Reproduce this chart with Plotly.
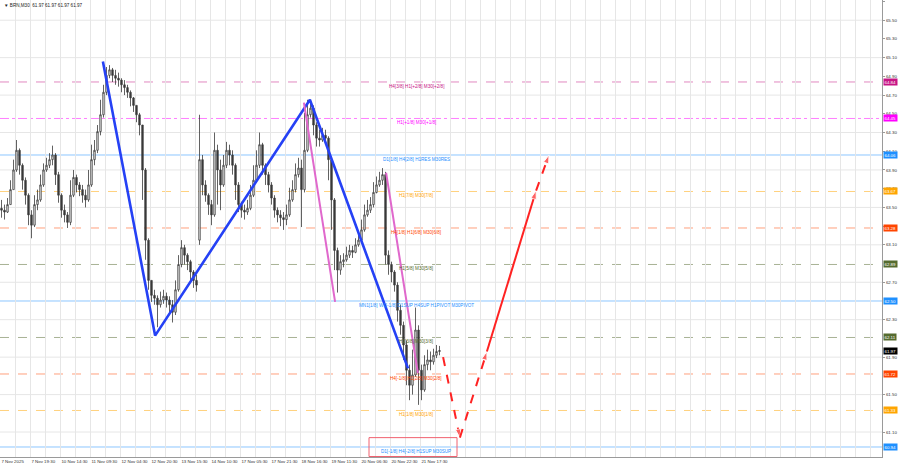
import plotly.graph_objects as go

# ---------------- data ----------------
bar_idx = list(range(147))
opens = [63.49,63.47,63.45,63.53,63.69,63.90,64.11,63.95,63.79,63.63,63.42,63.31,63.53,63.58,63.74,63.90,63.95,64.01,64.06,63.85,
         63.63,63.47,63.42,63.34,63.63,63.82,63.74,63.69,63.63,63.58,63.74,64.01,64.11,64.31,64.49,64.73,64.91,64.97,64.91,64.88,
         64.86,64.81,64.78,64.73,64.67,64.59,64.49,64.38,63.90,63.15,62.72,62.56,62.53,62.46,62.51,62.55,62.51,62.46,62.38,62.62,
         62.89,63.07,62.99,62.92,62.81,62.72,63.15,64.01,63.74,63.63,63.53,63.42,64.11,63.90,63.74,63.95,64.11,64.06,63.95,63.74,
         63.53,63.47,63.45,63.49,63.63,63.79,63.95,64.17,63.95,63.85,63.74,63.60,63.47,63.42,63.39,63.37,63.42,63.58,63.69,63.85,
         63.92,63.69,64.11,64.49,64.56,64.38,64.24,64.22,64.27,64.24,64.01,63.58,63.04,62.83,62.92,62.94,62.99,63.04,63.02,63.10,
         63.15,63.26,63.42,63.47,63.53,63.66,63.74,63.79,63.85,62.99,62.89,62.81,62.67,62.40,62.24,62.03,61.76,61.60,61.71,62.19,
         61.76,61.55,61.82,61.87,61.85,61.92,61.96]
highs = [63.58,63.53,63.60,63.79,64.01,64.22,64.13,63.97,63.82,63.65,63.47,63.63,63.69,63.85,63.97,64.03,64.08,64.16,64.08,63.88,
         63.65,63.53,63.45,63.79,63.90,63.85,63.77,63.74,63.69,63.90,64.17,64.22,64.38,64.65,64.81,65.00,65.02,64.99,64.97,64.94,
         64.88,64.86,64.81,64.75,64.68,64.59,64.51,64.38,63.92,63.17,62.72,62.62,62.56,62.60,62.62,62.59,62.55,62.51,62.72,62.99,
         63.15,63.10,63.01,62.94,62.83,62.78,64.49,64.06,63.79,63.65,63.58,64.30,64.17,64.01,64.06,64.20,64.17,64.11,63.97,63.77,
         63.56,63.53,63.58,63.74,63.95,64.11,64.30,64.19,63.97,63.88,63.77,63.63,63.50,63.47,63.45,63.53,63.71,63.79,63.97,64.03,
         64.01,64.51,64.65,64.65,64.59,64.41,64.33,64.35,64.33,64.26,64.03,63.60,63.07,62.99,63.01,63.08,63.10,63.09,63.17,63.24,
         63.37,63.53,63.58,63.61,63.77,63.83,63.88,63.92,63.88,63.04,62.92,62.83,62.70,62.46,62.28,62.08,61.82,61.98,62.43,62.24,
         61.82,61.92,61.98,61.96,61.99,62.03,62.02]
lows = [63.39,63.37,63.44,63.53,63.69,63.88,63.85,63.69,63.53,63.31,63.17,63.29,63.47,63.56,63.72,63.88,63.92,63.95,63.74,63.55,
        63.39,63.34,63.28,63.31,63.61,63.66,63.62,63.55,63.50,63.56,63.72,63.95,64.08,64.27,64.46,64.70,64.88,64.84,64.81,64.79,
        64.73,64.70,64.67,64.58,64.52,64.41,64.27,63.58,62.94,62.62,62.49,62.46,62.22,62.43,62.47,62.43,62.38,62.27,62.35,62.60,
        62.86,62.89,62.83,62.72,62.64,62.60,63.10,63.63,63.56,63.42,63.31,63.40,63.53,63.47,63.72,63.92,63.95,63.85,63.58,63.45,
        63.39,63.37,63.42,63.47,63.61,63.77,63.92,63.85,63.74,63.66,63.53,63.39,63.34,63.30,63.26,63.31,63.40,63.56,63.66,63.82,
        63.29,63.66,64.09,64.46,64.27,64.15,64.15,64.20,64.17,63.79,63.26,62.83,62.59,62.78,62.86,62.92,62.96,62.96,63.01,63.08,
        63.13,63.24,63.40,63.44,63.50,63.65,63.72,63.74,62.89,62.78,62.70,62.60,62.28,62.14,61.87,61.60,61.44,61.50,61.69,61.39,
        61.44,61.53,61.76,61.76,61.82,61.89,61.92]
closes = [63.47,63.45,63.53,63.69,63.90,64.11,63.95,63.79,63.63,63.42,63.31,63.53,63.58,63.74,63.90,63.95,64.01,64.06,63.85,63.63,
          63.47,63.42,63.34,63.63,63.82,63.74,63.69,63.63,63.58,63.74,64.01,64.11,64.31,64.49,64.73,64.91,64.97,64.91,64.88,64.86,
          64.81,64.78,64.73,64.67,64.59,64.49,64.38,63.90,63.15,62.72,62.56,62.53,62.46,62.51,62.55,62.51,62.46,62.38,62.62,62.89,
          63.07,62.99,62.92,62.81,62.72,62.67,64.01,63.74,63.63,63.53,63.42,64.11,63.90,63.74,63.95,64.11,64.06,63.95,63.74,63.53,
          63.47,63.45,63.49,63.63,63.79,63.95,64.17,63.95,63.85,63.74,63.60,63.47,63.42,63.39,63.37,63.42,63.58,63.69,63.85,63.92,
          63.69,64.11,64.49,64.56,64.38,64.24,64.22,64.27,64.24,64.01,63.58,63.04,62.83,62.92,62.94,62.99,63.04,63.02,63.10,63.15,
          63.26,63.42,63.47,63.53,63.66,63.74,63.79,63.85,62.99,62.89,62.81,62.67,62.40,62.24,62.03,61.76,61.60,61.71,62.19,61.76,
          61.55,61.82,61.87,61.85,61.92,61.96,61.97]

date_labels = ["7 Nov 2025", "7 Nov 19:30", "10 Nov 14:30", "11 Nov 09:30", "12 Nov 04:30",
               "12 Nov 20:30", "13 Nov 15:30", "14 Nov 10:30", "17 Nov 05:30", "17 Nov 21:30",
               "18 Nov 16:30", "19 Nov 11:30", "20 Nov 06:30", "20 Nov 22:30", "21 Nov 17:30"]
# price-scale labels that stay visible (the others sit under the level price tags)
price_ticks = [61.10, 61.50, 61.90, 62.30, 62.70, 63.10, 63.30,
               63.50, 63.70, 63.90, 64.10, 64.30, 64.50, 64.70, 64.90, 65.10, 65.30, 65.50, 65.70]
grid_prices = [61.10, 61.50, 61.90, 62.30, 62.70, 63.10, 63.50, 63.90, 64.30, 64.70, 65.10, 65.50]

level_prices = [64.84, 64.45, 64.06, 63.67, 63.28, 62.89, 62.50, 62.11, 61.72, 61.33, 60.94]
level_texts = ["H4[3/8] H1[+2/8] M30[+2/8]", "H1[+1/8] M30[+1/8]", "D1[1/8] H4[2/8] H1RES M30RES",
               "H1[7/8] M30[7/8]", "H4[1/8] H1[6/8] M30[6/8]", "H1[5/8] M30[5/8]",
               "MN1[1/8] W1[-1/8] D1SUP H4SUP H1PIVOT M30PIVOT", "H1[3/8] M30[3/8]",
               "H4[-1/8] H1[2/8] M30[2/8]", "H1[1/8] M30[1/8]", "D1[-1/8] H4[-2/8] H1SUP M30SUP"]
level_colors = ["#c71585", "#ff00ff", "#1e90ff", "#ffa500", "#ff4500", "#556b2f",
                "#1e90ff", "#556b2f", "#ff4500", "#ffa500", "#1e90ff"]
level_dash = ["dash", "dashdot", "solid", "dash", "dash", "dash", "solid", "dash", "dash", "dash", "solid"]

last_price = 61.97

zz_x = [33.8, 51.2, 102.8, 135.5]
zz_y = [65.06, 62.13, 64.65, 61.78]
pink1_x = [100.8, 111.2]
pink1_y = [64.62, 62.49]
pink2_x = [128.2, 138.8]
pink2_y = [63.87, 61.73]
fc_x = [147.2, 152.8, 161.8, 178.2, 182.5]
fc_y = [61.90, 61.04, 61.96, 63.68, 64.06]
fc_dash = ["dash", "dash", "solid", "dash"]

# ---------------- figure ----------------
FONT = "Liberation Sans, Arial, sans-serif"
X0, X1 = -0.5, 293.5
Y0, Y1 = 60.833, 65.716

fig = go.Figure()

shapes = []
for gp in grid_prices:
    shapes.append(dict(type="line", xref="paper", x0=0, x1=1, yref="y", y0=gp, y1=gp,
                       line=dict(color="#e6e6e6", width=1), layer="below"))
for p, c, d in zip(level_prices, level_colors, level_dash):
    shapes.append(dict(type="line", xref="paper", x0=0, x1=1, yref="y", y0=p, y1=p,
                       line=dict(color=c, width=1, dash=d), opacity=0.5, layer="below"))

fig.add_trace(go.Candlestick(
    x=bar_idx, open=opens, high=highs, low=lows, close=closes,
    increasing=dict(line=dict(color="#3a3a3a", width=0.8), fillcolor="#ffffff"),
    decreasing=dict(line=dict(color="#3a3a3a", width=0.8), fillcolor="#3a3a3a"),
    whiskerwidth=0, showlegend=False, hoverinfo="skip"))

fig.add_trace(go.Scatter(x=zz_x, y=zz_y, mode="lines",
                         line=dict(color="#2541f5", width=2.6), showlegend=False))
for px_, py_ in ((pink1_x, pink1_y), (pink2_x, pink2_y)):
    fig.add_trace(go.Scatter(x=px_, y=py_, mode="lines",
                             line=dict(color="#e068cc", width=2), showlegend=False))

for k in range(len(fc_x) - 1):
    fig.add_trace(go.Scatter(
        x=[fc_x[k], fc_x[k + 1]], y=[fc_y[k], fc_y[k + 1]], mode="lines+markers",
        line=dict(color="#ff2222", width=2, dash=fc_dash[k]),
        marker=dict(symbol="arrow", size=[0, 9], angleref="previous", color="#ff2222"),
        showlegend=False))

annotations = []
for p, t, c in zip(level_prices, level_texts, level_colors):
    annotations.append(dict(xref="paper", x=416 / 882, yref="y", y=p, yanchor="top",
                            xanchor="center", text=t, showarrow=False,
                            font=dict(family=FONT, size=4.6, color=c)))
    annotations.append(dict(xref="paper", x=1, yref="y", y=p, xanchor="left", yanchor="middle",
                            text=f"{p:.2f}", showarrow=False, xshift=1, bgcolor=c, borderpad=0.5,
                            font=dict(family=FONT, size=4.4, color="#ffffff")))
annotations.append(dict(xref="paper", x=1, yref="y", y=last_price, xanchor="left", yanchor="middle",
                        text=f"{last_price:.2f}", showarrow=False, xshift=1, bgcolor="#000000",
                        borderpad=0.5, font=dict(family=FONT, size=4.4, color="#ffffff")))
annotations.append(dict(xref="paper", x=0, yref="paper", y=1, xanchor="left", yanchor="top",
                        xshift=2, yshift=-1, showarrow=False,
                        text=f"▼ BRN,M30  {last_price:.2f} {last_price:.2f} {last_price:.2f} {last_price:.2f}",
                        font=dict(family=FONT, size=4.6, color="#222222")))

shapes.append(dict(type="rect", xref="paper", x0=369 / 882, x1=457 / 882, yref="y",
                   y0=Y0 + 0.005, y1=61.04, line=dict(color="#f0606e", width=1)))

xt_vals = [5 * k - 0.2 for k in range(59)]
xt_text = [date_labels[k // 2] if (k % 2 == 0 and k // 2 < len(date_labels)) else "" for k in range(59)]

fig.update_layout(
    width=900, height=468,
    margin=dict(l=0, r=18, t=0, b=11, pad=0, autoexpand=False),
    paper_bgcolor="#ffffff", plot_bgcolor="#ffffff",
    shapes=shapes, annotations=annotations,
    xaxis=dict(range=[X0, X1], tickmode="array", tickvals=xt_vals, ticktext=xt_text,
               showgrid=True, gridcolor="#e6e6e6", gridwidth=1, zeroline=False,
               showline=True, linecolor="#9a9a9a", linewidth=1, ticks="", tickangle=0,
               ticklabelposition="outside right", rangeslider=dict(visible=False),
               automargin=False, ticklabelstandoff=0,
               tickfont=dict(family=FONT, size=4.4, color="#333333"), fixedrange=True),
    yaxis=dict(range=[Y0, Y1], side="right", tickmode="array", tickvals=price_ticks,
               ticktext=[f"{v:.2f}" for v in price_ticks], showgrid=False, zeroline=False,
               showline=True, mirror=True, linecolor="#9a9a9a", linewidth=1,
               ticks="outside", ticklen=2, tickcolor="#9a9a9a", automargin=False,
               tickfont=dict(family=FONT, size=4.4, color="#333333"), fixedrange=True),
)

fig.write_html("out.html", config={"displayModeBar": False},
               post_script="document.body.style.margin='0px';document.body.style.padding='0px';")
